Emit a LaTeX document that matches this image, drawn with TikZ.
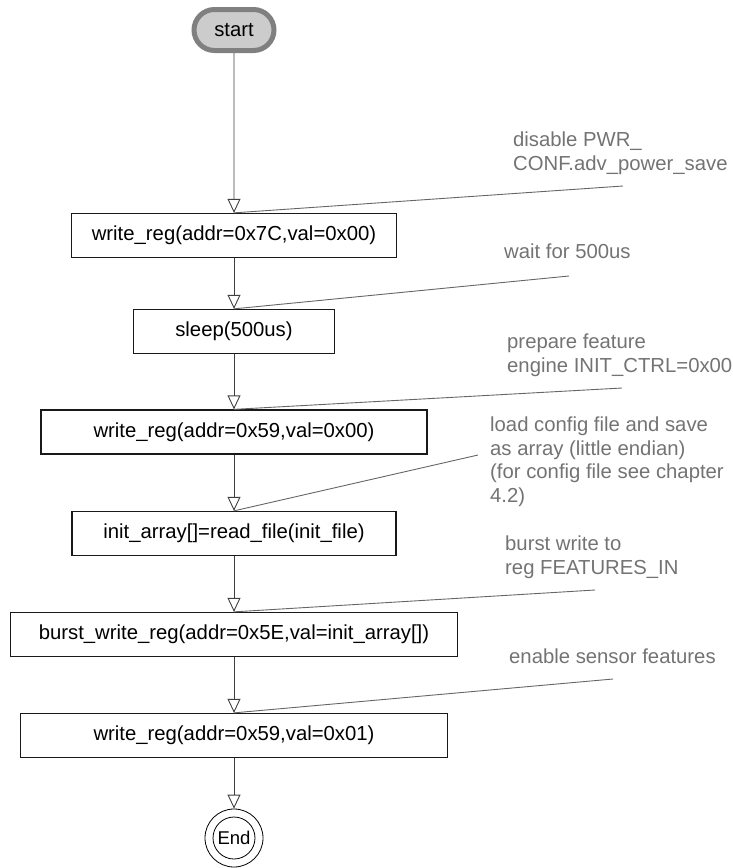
\documentclass[tikz,border=0pt]{standalone}
\usepackage{fontspec}
\setmainfont{Liberation Sans}
\usetikzlibrary{shapes.misc}
\usetikzlibrary{arrows.meta}

\begin{document}
\begin{tikzpicture}[x=1pt,y=-1pt,
        stepbox/.style={draw=black!90,line width=1.3pt,minimum height=44pt,inner sep=0pt,font=\fontsize{20.3}{23}\selectfont},
        startnode/.style={rounded rectangle,draw=gray,fill=gray!40,line width=5pt,minimum width=80pt,minimum height=41pt,inner sep=0pt,font=\fontsize{20.3}{23}\selectfont},
        endnode/.style={circle,draw,line width=0.8pt,minimum size=58pt,inner sep=0pt,font=\fontsize{18.5}{22}\selectfont},
        flow/.style={draw=black!75,line width=0.9pt,-{Triangle[open,length=14pt,width=13pt]}},
        note/.style={anchor=north west,align=left,inner sep=0pt,text=black!55,font=\fontsize{20.3}{23.5}\selectfont},
        noteline/.style={draw=black!60,line width=0.9pt}]
        %BOX
        \useasboundingbox (0,0) rectangle (733,868);

        %NODE
        \node[startnode] (S) at (234,30) {start};
        \node[stepbox,minimum width=325pt] (B1) at (234,235.5) {write\_reg(addr=0x7C,val=0x00)};
        \node[stepbox,minimum width=201pt] (B2) at (234,331.5) {sleep(500us)};
        \node[stepbox,minimum width=386pt] (B3) at (234,432) {write\_reg(addr=0x59,val=0x00)};
        \node[stepbox,minimum width=324pt] (B4) at (234,533.5) {init\_array[]=read\_file(init\_file)};
        \node[stepbox,minimum width=447pt] (B5) at (234,634.5) {burst\_write\_reg(addr=0x5E,val=init\_array[])};
        \node[stepbox,minimum width=427pt] (B6) at (234,735.5) {write\_reg(addr=0x59,val=0x01)};
        \node[endnode] (E) at (234,838) {End};
        \draw[line width=0.8pt] (E.center) circle (21pt);

        %PANAH
        \draw[flow] (S) -- (B1);
        \draw[flow] (B1) -- (B2);
        \draw[flow] (B2) -- (B3);
        \draw[flow] (B3) -- (B4);
        \draw[flow] (B4) -- (B5);
        \draw[flow] (B5) -- (B6);
        \draw[flow] (B6) -- (E);

        %CATATAN
        \node[note] (N1) at (513,132) {disable PWR\_\\CONF.adv\_power\_save};
        \node[note] (N2) at (504,244) {wait for 500us};
        \node[note] (N3) at (507,334) {prepare feature\\engine INIT\_CTRL=0x00};
        \node[note] (N4) at (490,417) {load config file and save\\as array (little endian)\\(for config file see chapter\\4.2)};
        \node[note] (N5) at (505,536) {burst write to\\reg FEATURES\_IN};
        \node[note] (N6) at (509,649) {enable sensor features};

        \coordinate (C1) at (623,186);
        \coordinate (C2) at (569,276);
        \coordinate (C3) at (622,388);
        \coordinate (C4) at (478,455);
        \coordinate (C5) at (595,590);
        \coordinate (C6) at (613,679);
        \draw[noteline] (C1) -- (B1.north);
        \draw[noteline] (C2) -- (B2.north);
        \draw[noteline] (C3) -- (B3.north);
        \draw[noteline] (C4) -- (B4.north);
        \draw[noteline] (C5) -- (B5.north);
        \draw[noteline] (C6) -- (B6.north);
    \end{tikzpicture}
\end{document}
